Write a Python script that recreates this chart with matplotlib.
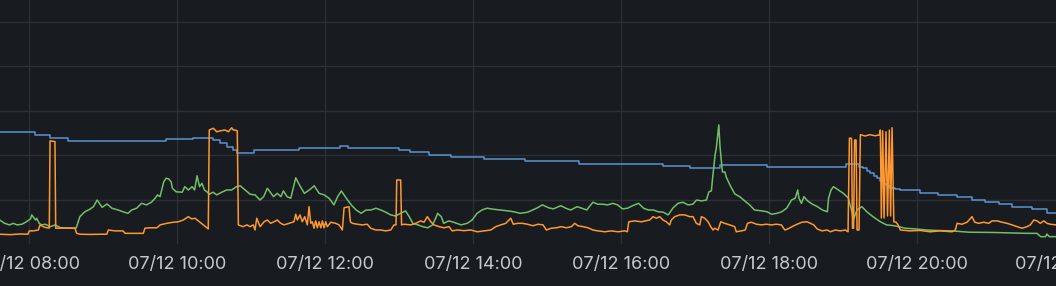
import matplotlib
matplotlib.use("Agg")
import matplotlib.pyplot as plt
import matplotlib.dates as mdates
import matplotlib.transforms as mtransforms
import numpy as np
import pandas as pd

# ---------------- data (times = minutes after 07:00 on 07/12) ----------------
blue_min = [36, 65, 77, 91, 171, 193, 209, 215, 220, 225,
            228, 242, 279, 312, 318, 360, 369, 384, 402, 429,
            462, 506, 574, 596, 620, 658, 722, 733, 736, 739,
            742, 745, 747, 750, 753, 755, 758, 762, 766, 782,
            797, 812, 824, 835, 846, 857, 873, 885, 892]
blue_val = [50.3, 48.9, 47.6, 46.2, 47.1, 47.8, 46.8, 45.3, 43.8, 42.3,
            41.1, 42.2, 43.1, 44.0, 43.1, 42.2, 41.3, 40.1, 39.2, 38.3,
            37.4, 35.9, 35.0, 34.1, 35.6, 34.8, 35.9, 34.8, 34.1, 32.9,
            31.8, 30.8, 29.6, 28.4, 27.1, 26.2, 25.3, 24.8, 24.2, 23.1,
            22.1, 21.0, 19.9, 18.9, 17.9, 16.8, 15.6, 13.8, 13.8]

green_min = [36, 40, 44, 47, 50, 54, 57, 61, 62, 65,
             66, 68, 70, 73, 77, 81, 85, 90, 98, 101,
             105, 109, 112, 115, 119, 123, 127, 132, 136, 140,
             143, 147, 151, 155, 159, 162, 164, 166, 169, 171,
             173, 175, 176, 179, 184, 186, 189, 192, 194, 196,
             198, 200, 202, 204, 206, 209, 212, 216, 220, 224,
             228, 231, 235, 239, 243, 247, 250, 253, 256, 258,
             261, 264, 266, 269, 272, 276, 279, 283, 287, 291,
             295, 299, 303, 307, 310, 313, 317, 321, 325, 329,
             333, 337, 341, 345, 349, 353, 357, 361, 365, 368,
             371, 375, 379, 383, 387, 390, 391, 394, 396, 400,
             404, 410, 415, 419, 423, 427, 431, 437, 442, 448,
             453, 458, 464, 468, 472, 476, 481, 485, 489, 491,
             495, 499, 504, 508, 512, 514, 517, 521, 525, 529,
             533, 537, 541, 545, 549, 554, 558, 562, 566, 570,
             574, 578, 582, 586, 590, 594, 598, 601, 605, 609,
             611, 613, 614, 616, 617, 619, 620, 621, 622, 624,
             625, 628, 632, 636, 640, 644, 648, 654, 658, 662,
             666, 670, 674, 678, 681, 683, 684, 686, 688, 691,
             695, 699, 703, 707, 708, 710, 712, 716, 720, 724,
             727, 728, 731, 735, 739, 744, 750, 755, 760, 765,
             770, 778, 787, 795, 808, 822, 841, 854, 868, 877,
             880, 884, 885, 887, 893]
green_val = [10.8, 9.3, 8.6, 9.3, 8.6, 8.9, 9.8, 11.3, 13.1, 10.8,
             11.6, 9.3, 8.6, 8.9, 7.8, 8.6, 7.4, 7.2, 7.2, 12.3,
             14.5, 15.6, 16.8, 19.8, 16.5, 18.0, 16.1, 15.3, 14.5, 13.8,
             15.3, 16.1, 18.3, 17.6, 18.8, 20.6, 22.1, 21.3, 28.0, 29.6,
             29.3, 28.0, 25.1, 23.5, 23.3, 25.8, 24.3, 25.8, 24.3, 30.7,
             25.8, 27.3, 24.3, 23.5, 22.4, 23.3, 22.1, 23.3, 24.3, 24.3,
             25.8, 26.2, 24.3, 22.4, 22.1, 19.8, 21.3, 25.1, 22.8, 21.3,
             22.8, 21.3, 23.9, 21.3, 20.6, 29.8, 26.6, 22.8, 24.3, 26.2,
             22.8, 22.1, 20.6, 17.6, 21.3, 23.9, 20.6, 17.6, 15.3, 13.8,
             15.3, 15.3, 16.1, 15.3, 14.3, 13.1, 12.6, 13.8, 14.9, 12.3,
             9.3, 8.6, 7.8, 7.3, 8.6, 12.3, 13.8, 12.3, 9.3, 10.4,
             9.8, 8.6, 9.3, 10.8, 13.8, 15.3, 16.1, 15.6, 15.3, 14.9,
             14.5, 13.8, 14.3, 15.3, 16.3, 17.6, 16.3, 15.8, 16.8, 17.2,
             16.1, 15.3, 16.8, 16.1, 15.3, 16.8, 18.8, 17.9, 17.9, 17.6,
             18.3, 17.6, 15.8, 16.1, 17.2, 18.3, 16.1, 15.3, 15.3, 14.5,
             14.3, 13.1, 16.3, 18.3, 18.8, 17.6, 17.9, 19.8, 19.4, 19.8,
             23.5, 23.9, 29.7, 40.1, 43.2, 53.6, 43.8, 37.8, 32.4, 32.4,
             30.2, 26.6, 22.5, 21.3, 19.4, 17.6, 15.3, 14.9, 14.5, 13.4,
             13.8, 14.5, 16.1, 19.8, 20.6, 24.3, 20.6, 18.3, 21.3, 19.4,
             17.9, 16.8, 15.3, 14.5, 20.6, 24.3, 25.8, 24.3, 22.8, 20.7,
             14.4, 10.8, 15.3, 16.8, 14.5, 12.3, 10.0, 8.6, 8.3, 7.8,
             7.1, 6.8, 6.3, 6.1, 5.9, 5.3, 5.2, 5.0, 4.8, 4.8,
             3.3, 3.3, 4.5, 3.3, 3.3]

orange_min = [36.2, 44.3, 52.5, 58.9, 60.0, 63.2, 67.3, 68.7, 71.3, 74.1,
              76.2, 76.8, 80.8, 81.4, 84.9, 89.8, 97.0, 98.4, 101.1, 109.2,
              117.3, 122.8, 124.1, 129.5, 136.0, 137.6, 145.7, 152.4, 153.8, 157.9,
              163.3, 164.6, 166.0, 171.4, 176.8, 180.8, 184.9, 188.9, 191.7, 194.3,
              197.0, 201.1, 205.1, 205.9, 209.2, 211.9, 214.6, 218.7, 221.3, 224.1,
              225.4, 226.8, 228.6, 229.5, 233.3, 236.5, 238.9, 241.6, 243.0, 244.4,
              247.1, 250.3, 253.0, 255.7, 258.4, 261.1, 263.8, 266.5, 270.6, 274.6,
              276.0, 277.3, 279.5, 281.3, 283.3, 285.4, 286.8, 288.2, 289.5, 290.8,
              292.2, 293.5, 294.9, 296.3, 297.6, 298.9, 300.3, 301.6, 304.4, 308.4,
              311.1, 313.8, 315.2, 319.2, 320.3, 321.9, 325.9, 330.0, 334.0, 336.8,
              340.9, 344.9, 349.0, 353.0, 355.7, 357.3, 357.9, 361.1, 361.8, 363.8,
              369.2, 373.3, 377.3, 380.0, 382.7, 385.5, 388.1, 392.2, 396.2, 400.3,
              402.9, 407.0, 412.4, 417.9, 423.2, 428.7, 434.1, 438.2, 442.2, 446.3,
              450.3, 452.4, 455.7, 459.7, 463.8, 468.4, 472.4, 476.5, 479.2, 483.2,
              487.3, 491.3, 495.4, 499.5, 502.2, 504.9, 508.9, 513.0, 517.0, 521.1,
              526.5, 531.9, 537.3, 542.8, 544.9, 546.0, 550.9, 556.2, 563.0, 565.7,
              568.4, 571.1, 573.8, 576.5, 579.2, 580.5, 583.3, 587.3, 591.4, 595.4,
              598.1, 600.8, 603.6, 604.9, 607.6, 610.3, 612.5, 614.3, 615.7, 618.4,
              620.6, 623.8, 627.9, 631.9, 633.2, 637.3, 640.5, 642.2, 645.4, 649.5,
              653.5, 657.6, 661.6, 665.7, 669.7, 672.5, 675.1, 678.4, 682.5, 686.5,
              690.6, 693.2, 696.0, 698.7, 702.7, 706.8, 709.5, 713.5, 717.6, 721.6,
              723.8, 724.9, 726.6, 727.4, 728.3, 729.1, 730.3, 731.1, 732.7, 733.8,
              737.6, 741.6, 745.7, 749.2, 750.0, 750.8, 751.9, 753.0, 754.6, 755.8,
              757.3, 758.3, 759.5, 760.9, 762.7, 764.4, 766.2, 774.1, 782.2, 790.3,
              798.4, 808.1, 810.8, 812.2, 816.2, 820.3, 824.3, 826.5, 829.8, 833.8,
              837.9, 840.6, 844.6, 848.7, 852.7, 856.8, 860.8, 864.9, 868.9, 871.6,
              874.4, 877.0, 879.7, 882.5, 885.1, 887.8, 892.4]
orange_val = [4.4, 4.2, 4.5, 4.4, 5.9, 5.9, 6.3, 8.6, 7.8, 7.3,
              7.2, 46.4, 46.1, 7.1, 7.1, 7.2, 7.1, 4.8, 4.4, 4.3,
              4.4, 4.4, 6.3, 5.9, 5.9, 4.8, 4.8, 4.8, 7.1, 7.3,
              7.3, 7.8, 8.6, 9.3, 9.8, 10.0, 10.8, 12.3, 11.3, 11.6,
              10.4, 8.6, 6.8, 51.3, 52.1, 50.5, 50.9, 51.3, 50.5, 52.3,
              51.3, 51.3, 50.9, 8.6, 7.8, 8.6, 7.8, 8.6, 6.3, 11.6,
              7.8, 10.0, 10.8, 9.3, 10.0, 10.8, 9.3, 8.6, 9.3, 10.0,
              13.4, 10.8, 13.1, 10.0, 12.3, 8.6, 16.8, 9.3, 10.0, 7.1,
              10.4, 7.3, 10.0, 7.3, 10.4, 7.3, 10.0, 7.8, 9.8, 9.3,
              8.6, 6.3, 16.3, 16.8, 10.0, 9.3, 8.9, 8.6, 8.9, 7.1,
              6.3, 6.3, 5.9, 6.3, 8.6, 8.6, 28.8, 28.8, 8.6, 8.9,
              8.6, 9.3, 10.4, 9.8, 12.3, 10.0, 8.6, 7.8, 7.3, 7.8,
              5.9, 6.3, 6.0, 6.3, 5.5, 5.9, 6.3, 7.8, 8.6, 9.3,
              11.6, 8.9, 9.3, 9.3, 8.9, 8.2, 8.9, 8.6, 6.3, 7.1,
              7.3, 7.8, 7.3, 7.8, 9.3, 8.2, 7.8, 7.3, 6.3, 5.9,
              5.5, 5.9, 5.5, 5.9, 5.5, 10.0, 10.4, 10.0, 10.8, 12.3,
              11.6, 12.3, 10.8, 10.0, 8.6, 10.8, 12.3, 13.1, 13.1, 12.3,
              12.3, 9.3, 8.6, 12.3, 11.6, 10.0, 7.8, 6.3, 7.1, 6.3,
              10.0, 9.3, 8.6, 7.8, 5.5, 5.9, 6.3, 9.3, 9.8, 8.9,
              8.6, 8.9, 8.6, 8.9, 8.6, 6.3, 6.8, 7.8, 8.9, 9.8,
              10.0, 9.3, 8.6, 6.8, 5.9, 6.3, 5.5, 6.3, 5.9, 6.3,
              5.5, 47.6, 47.6, 7.1, 7.1, 46.8, 46.8, 6.3, 6.3, 49.2,
              48.6, 49.2, 48.7, 49.1, 51.3, 11.7, 50.9, 11.7, 50.5, 12.6,
              51.3, 12.6, 52.3, 10.0, 9.8, 8.6, 6.3, 5.9, 6.1, 5.5,
              5.9, 5.5, 6.3, 9.3, 8.9, 9.8, 12.3, 9.8, 9.3, 9.8,
              9.3, 10.4, 10.4, 9.8, 9.3, 8.6, 7.8, 7.1, 7.8, 8.6,
              10.8, 10.4, 9.3, 10.4, 9.3, 8.9, 8.6]

tick_min = [60, 180, 300, 420, 540, 660, 780, 900]   # 08:00 ... 22:00
grid_vals = [20, 40, 60, 80, 100]

# ---------------- style ----------------
BG = "#181b1f"
GRID = "#2c2f35"
TXT = "#c6c8d0"
C_BLUE = "#5b93d3"
C_GREEN = "#73bf69"
C_ORANGE = "#ff9830"
FS = 13
PAD = 8.6

BASE = pd.Timestamp("2024-07-12 07:00")


def tt(m):
    return BASE + pd.to_timedelta(np.asarray(m, dtype=float), unit="min")


plt.rcParams["font.family"] = ["Inter", "DejaVu Sans"]

W, H = 1056, 286
fig = plt.figure(figsize=(W / 100, H / 100), dpi=100, facecolor=BG)
bottom_px = 244
ax = fig.add_axes([0, (H - bottom_px) / H, 1, bottom_px / H])
ax.set_facecolor(BG)

ax.plot(tt(blue_min), blue_val, drawstyle="steps-post", color=C_BLUE, lw=1.1)
ax.plot(tt(green_min), green_val, color=C_GREEN, lw=1.1)
ax.plot(tt(orange_min), orange_val, color=C_ORANGE, lw=1.1)

x_lo, x_hi = 36.24, 892.4
ax.set_xlim(tt([x_lo])[0], tt([x_hi])[0])
ax.set_ylim(0, bottom_px * 0.45)

ax.set_yticks(grid_vals)
ax.set_yticklabels([])
ax.tick_params(axis="y", length=0)

visible = [m for m in tick_min if x_lo <= m <= x_hi]
ax.set_xticks(tt(visible))
ax.xaxis.set_major_formatter(mdates.DateFormatter("%m/%d %H:%M"))
ax.tick_params(axis="x", length=0, pad=PAD, labelsize=FS, labelcolor=TXT)

ax.grid(True, color=GRID, lw=1.0)
ax.set_axisbelow(True)
for s in ax.spines.values():
    s.set_visible(False)

# label of the 22:00 tick that lies just past the right edge
trans = mtransforms.offset_copy(ax.get_xaxis_transform(), fig=fig, y=-PAD, units="points")
for m in tick_min:
    if m > x_hi:
        t = tt([m])[0]
        ax.text(mdates.date2num(t), 0, t.strftime("%m/%d %H:%M"), transform=trans,
                ha="center", va="top", fontsize=FS, color=TXT, clip_on=False)

fig.savefig("out.png", dpi=100, facecolor=BG)
